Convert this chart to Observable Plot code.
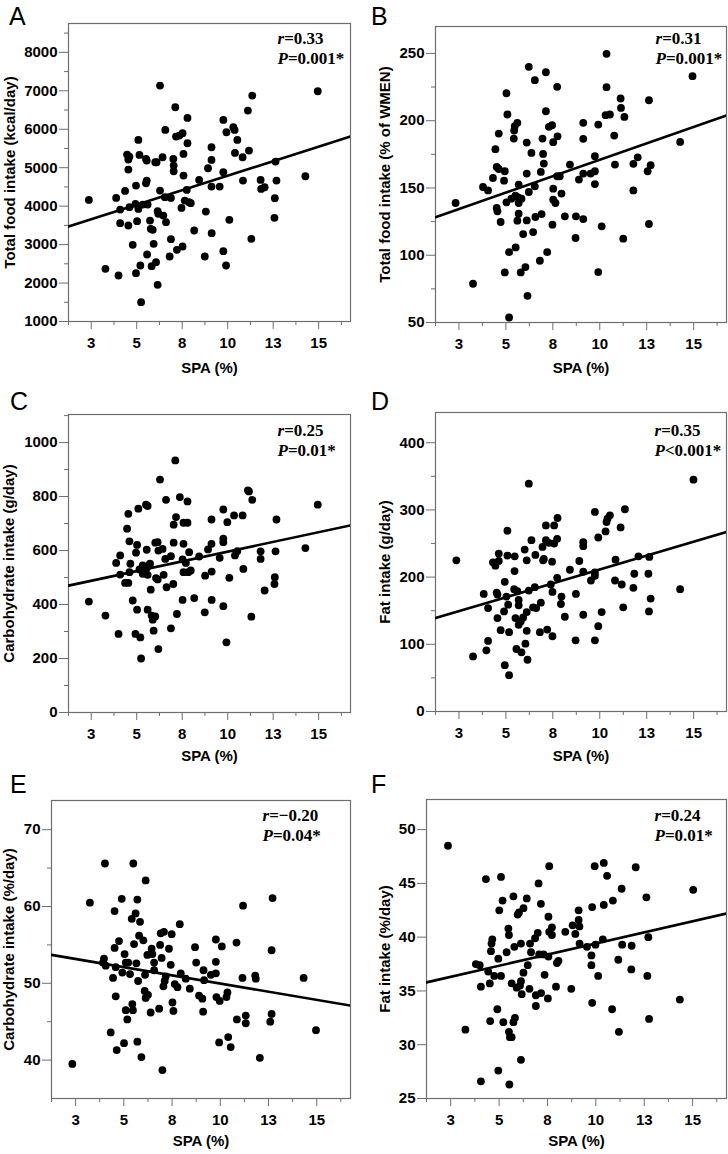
<!DOCTYPE html>
<html><head><meta charset="utf-8">
<script src="https://cdn.jsdelivr.net/npm/d3@7"></script>
<script src="https://cdn.jsdelivr.net/npm/@observablehq/plot@0.6"></script>
<style>
html,body{margin:0;padding:0;background:#fff;}
#root{position:relative;width:728px;height:1154px;overflow:hidden;font-family:"Liberation Sans",Arial,sans-serif;}
.panel{position:absolute;}
.letter{position:absolute;font-size:25px;line-height:25px;color:#000;font-family:"Liberation Sans",Arial,sans-serif;}
</style></head><body><div id="root"></div>
<script>
// ---- shared x axis (SPA %) ----
const xDomain = [1.25, 16.75];
const xTicks = [2.5, 5, 7.5, 10, 12.5, 15];
const xTickLabels = ["3", "5", "8", "10", "13", "15"];
const xMinorTicks = [1.25, 3.75, 6.25, 8.75, 11.25, 13.75, 16.25];
const xLabel = "SPA (%)";

// ---- panel letters, y labels, stats ----
const letters = ["A", "B", "C", "D", "E", "F"];
const yLabels = ["Total food intake (kcal/day)", "Total food intake (% of WMEN)", "Carbohydrate intake (g/day)", "Fat intake (g/day)", "Carbohydrate intake (%/day)", "Fat intake (%/day)"];
const rTexts = ["r=0.33", "r=0.31", "r=0.25", "r=0.35", "r=\u22120.20", "r=0.24"];
const pTexts = ["P=0.001*", "P=0.001*", "P=0.01*", "P<0.001*", "P=0.04*", "P=0.01*"];

// ---- y ticks ----
const yTicksA = [1000, 2000, 3000, 4000, 5000, 6000, 7000, 8000];
const yMinorA = [1500, 2500, 3500, 4500, 5500, 6500, 7500, 8500];
const yTicksB = [50, 100, 150, 200, 250];
const yMinorB = [75, 125, 175, 225];
const yTicksC = [0, 200, 400, 600, 800, 1000];
const yMinorC = [100, 300, 500, 700, 900, 1100];
const yTicksD = [0, 100, 200, 300, 400];
const yMinorD = [50, 150, 250, 350];
const yTicksE = [40, 50, 60, 70];
const yMinorE = [45, 55, 65];
const yTicksF = [25, 30, 35, 40, 45, 50];
const yMinorF = [];

// ---- regression fits (intercept, slope) ----
const fitA = [3281, 151];
const fitB = [122.1, 4.88];
const fitC = [452, 14.39];
const fitD = [128.7, 8.26];
const fitE = [54.23, -0.426];
const fitF = [35.28, 0.413];

// ---- data points [SPA %, value] ----
const pointsA = [[2.37,4163],[3.28,2369],[3.87,4215],[4.0,2196],[4.09,3912],[4.09,3556],[4.36,4397],[4.47,5342],[4.54,5212],[4.6,5290],[4.54,4952],[4.6,3972],[4.54,3496],[4.78,2993],[4.96,4536],[4.93,4059],[5.02,3608],[4.96,2257],[5.09,5723],[5.15,5333],[5.09,3929],[5.24,1503],[5.2,2456],[5.33,4042],[5.51,5229],[5.55,5186],[5.51,4596],[5.55,4666],[5.6,4042],[5.57,2742],[5.73,3626],[5.77,3409],[5.82,2439],[5.88,3383],[5.93,3019],[6.02,5142],[6.09,5142],[6.06,2543],[6.15,3868],[6.19,3799],[6.15,1953],[6.28,4406],[6.28,7135],[6.42,5272],[6.46,3756],[6.55,4232],[6.57,5983],[6.61,3582],[6.81,2690],[6.88,3140],[6.88,4215],[7.01,5229],[7.03,5055],[7.03,4908],[7.12,6572],[7.16,5810],[7.21,2863],[7.34,5836],[7.46,3955],[7.52,2950],[7.52,5896],[7.57,5359],[7.57,4796],[7.64,4146],[7.75,4423],[7.79,5636],[7.79,6295],[7.88,4102],[7.97,4076],[8.16,3366],[8.43,4683],[8.74,2690],[8.8,3860],[8.92,4986],[9.11,5532],[9.11,5203],[9.11,4510],[9.12,3297],[9.56,4510],[9.76,4882],[9.76,6243],[9.76,2829],[9.91,2456],[9.93,5922],[10.09,3643],[10.31,6052],[10.38,5983],[10.4,5385],[10.53,5723],[10.82,5272],[10.84,4666],[11.11,6486],[11.17,5446],[11.3,3149],[11.35,6876],[11.81,4683],[11.84,4449],[12.03,4492],[12.57,3695],[12.59,4206],[12.63,5160],[12.68,4666],[14.27,4778],[14.95,6988]];
const pointsB = [[2.32,138.8],[3.25,78.8],[3.78,150.7],[4.05,148.2],[4.31,157.4],[4.44,178.8],[4.51,165.6],[4.51,135.1],[4.55,132.6],[4.62,190.4],[4.62,164.1],[4.72,124.7],[4.9,155.4],[4.94,162.4],[4.94,87.2],[5.03,220.4],[5.03,139.3],[5.08,204.6],[5.17,102.3],[5.17,53.7],[5.29,142.0],[5.42,186.7],[5.44,192.7],[5.47,195.9],[5.51,144.3],[5.52,105.8],[5.61,198.4],[5.65,143.0],[5.68,138.8],[5.68,130.9],[5.68,152.5],[5.61,125.7],[5.79,87.2],[5.83,142.0],[5.92,115.7],[6.04,91.2],[6.11,183.7],[6.11,160.7],[6.11,125.9],[6.15,69.8],[6.22,240],[6.22,147.0],[6.36,176.0],[6.45,117.2],[6.54,230.1],[6.54,151.2],[6.57,128.4],[6.81,95.9],[6.86,161.9],[6.9,130.6],[6.95,186.7],[6.98,175.3],[7.02,168.1],[7.13,236],[7.13,207.0],[7.2,102.3],[7.29,195.4],[7.46,196.6],[7.48,122.7],[7.52,184.0],[7.52,149.5],[7.52,141.3],[7.64,138.8],[7.73,225.2],[7.75,188.4],[7.73,158.7],[7.87,158.7],[7.96,145.8],[8.14,128.9],[8.41,167.4],[8.89,156.2],[8.73,128.9],[8.71,112.8],[9.12,198.4],[9.12,186.5],[9.12,160.7],[9.12,126.9],[9.51,160.7],[9.74,173.6],[9.74,162.4],[9.74,152.9],[9.92,197.1],[9.92,87.5],[10.1,121.5],[10.31,204.1],[10.36,224.9],[10.36,249.7],[10.54,204.6],[10.77,188.9],[10.81,167.4],[11.11,216.5],[11.13,209.5],[11.25,112.3],[11.31,202.8],[11.79,167.9],[11.79,148.2],[12.02,172.8],[12.55,162.4],[12.62,215.2],[12.62,123.2],[12.71,166.9],[14.28,184.2],[14.94,233.1]];
const pointsC = [[2.37,411],[3.28,359],[3.87,554],[4.0,291],[4.09,582],[4.09,511],[4.36,480],[4.47,681],[4.54,736],[4.6,634],[4.54,480],[4.6,520],[4.65,551],[4.78,415],[4.96,592],[4.93,291],[5.02,381],[5.02,621],[5.09,755],[5.15,530],[5.2,278],[5.24,200],[5.33,514],[5.33,545],[5.51,770],[5.55,603],[5.6,765],[5.55,535],[5.6,510],[5.69,547],[5.73,551],[5.6,381],[5.77,455],[5.82,359],[5.88,344],[5.93,303],[6.02,356],[6.06,498],[6.02,629],[6.15,631],[6.19,235],[6.15,493],[6.19,600],[6.28,863],[6.42,606],[6.48,510],[6.57,569],[6.61,788],[6.64,464],[6.88,312],[6.88,579],[7.01,476],[7.03,696],[7.03,629],[7.16,724],[7.12,934],[7.21,365],[7.37,798],[7.52,417],[7.57,703],[7.57,625],[7.52,567],[7.57,520],[7.7,554],[7.79,703],[7.79,782],[7.83,520],[7.88,594],[7.97,526],[8.16,424],[8.43,578],[8.74,371],[8.76,507],[8.92,604],[9.11,715],[9.11,625],[9.12,522],[9.12,417],[9.56,573],[9.76,644],[9.76,631],[9.76,752],[9.76,394],[9.93,260],[9.98,705],[10.09,499],[10.35,730],[10.4,582],[10.53,598],[10.82,730],[10.86,532],[11.11,823],[11.17,819],[11.3,355],[11.35,788],[11.81,597],[11.81,569],[12.03,452],[12.57,476],[12.59,501],[12.63,597],[12.68,715],[14.27,609],[14.95,770]];
const pointsD = [[2.36,225],[3.25,82],[3.82,175],[3.96,91],[4.05,105],[4.05,154],[4.31,222],[4.44,217],[4.51,177],[4.55,174],[4.55,139],[4.62,235],[4.62,224],[4.72,121],[4.9,149],[4.94,193],[4.94,69],[5.03,171],[5.08,232],[5.08,269],[5.12,159],[5.17,118],[5.17,54],[5.44,182],[5.47,231],[5.46,209],[5.51,139],[5.56,93],[5.61,179],[5.68,166],[5.68,158],[5.68,129],[5.79,134],[5.83,88],[5.92,140],[6.0,241],[6.04,101],[6.11,225],[6.11,148],[6.11,120],[6.15,77],[6.22,339],[6.22,180],[6.36,255],[6.45,155],[6.54,185],[6.57,233],[6.61,154],[6.81,118],[6.86,162],[6.95,245],[6.98,225],[7.02,227],[7.13,277],[7.13,255],[7.2,122],[7.29,251],[7.39,189],[7.46,223],[7.48,178],[7.48,112],[7.57,277],[7.57,250],[7.73,257],[7.75,288],[7.73,199],[7.93,160],[7.96,171],[8.14,141],[8.41,211],[8.73,175],[8.71,106],[8.91,224],[9.12,252],[9.12,246],[9.12,208],[9.12,144],[9.53,195],[9.74,207],[9.74,202],[9.74,297],[9.74,106],[9.92,259],[9.92,127],[10.1,148],[10.31,268],[10.36,282],[10.41,287],[10.54,292],[10.81,195],[10.84,226],[11.11,274],[11.17,189],[11.25,155],[11.34,301],[11.79,184],[11.84,205],[12.06,231],[12.59,205],[12.62,149],[12.64,230],[12.71,168],[14.28,182],[14.99,345]];
const pointsE = [[2.33,39.5],[3.24,60.5],[3.92,52.7],[3.97,53.2],[4.02,65.6],[4.06,52.3],[4.32,43.6],[4.44,50.7],[4.52,59.4],[4.52,54.6],[4.58,48.3],[4.58,52.1],[4.63,41.3],[4.75,55.5],[4.89,61.0],[4.92,51.4],[5.01,42.2],[5.04,53.8],[5.1,52.7],[5.1,46.5],[5.18,45.3],[5.23,52.7],[5.32,51.2],[5.44,47.3],[5.47,46.5],[5.49,65.6],[5.41,58.4],[5.53,55.1],[5.61,59.1],[5.65,52.6],[5.7,60.9],[5.7,42.4],[5.74,50.3],[5.79,56.2],[5.84,58.0],[5.91,40.4],[6.01,55.6],[6.08,49.0],[6.1,51.1],[6.13,63.4],[6.13,48.1],[6.22,53.7],[6.25,48.5],[6.39,46.2],[6.44,54.5],[6.48,53.8],[6.57,52.7],[6.57,51.7],[6.83,46.7],[6.88,55.0],[6.91,56.5],[6.96,53.3],[7.0,38.7],[7.05,49.6],[7.08,56.7],[7.12,50.3],[7.17,50.9],[7.34,54.5],[7.43,52.4],[7.48,56.4],[7.52,47.5],[7.57,46.4],[7.64,49.9],[7.78,49.5],[7.9,57.7],[7.95,51.3],[8.21,50.6],[8.42,49.3],[8.69,54.7],[8.75,52.7],[8.9,48.4],[9.07,48.0],[9.11,46.3],[9.13,51.7],[9.16,50.4],[9.51,51.1],[9.77,52.8],[9.77,55.7],[9.77,51.3],[9.8,48.2],[9.94,42.3],[9.97,47.7],[10.08,54.8],[10.32,48.2],[10.37,48.8],[10.41,43.0],[10.54,41.7],[10.84,55.3],[10.86,45.3],[11.15,50.7],[11.18,60.1],[11.32,45.8],[11.32,44.8],[11.81,51.0],[11.84,50.6],[12.05,40.3],[12.59,45.0],[12.66,46.0],[12.66,54.3],[12.71,61.1],[14.32,50.7],[14.96,43.9]];
const pointsF = [[2.36,48.5],[3.26,31.4],[3.8,37.5],[4.0,37.4],[4.06,35.4],[4.06,26.6],[4.32,45.4],[4.44,36.8],[4.52,35.7],[4.54,32.2],[4.58,38.7],[4.61,39.4],[4.65,39.8],[4.75,36.4],[4.91,33.3],[4.96,38.0],[4.96,27.6],[5.01,42.5],[5.1,45.6],[5.1,36.4],[5.18,43.4],[5.22,32.1],[5.39,38.6],[5.48,40.8],[5.51,40.2],[5.51,31.2],[5.53,26.3],[5.56,30.7],[5.65,30.7],[5.65,35.7],[5.74,43.8],[5.79,39.1],[5.74,32.1],[5.82,32.5],[5.91,35.3],[5.96,42.1],[6.03,42.3],[6.08,35.5],[6.13,39.4],[6.13,28.6],[6.13,35.9],[6.17,34.7],[6.26,42.7],[6.26,36.7],[6.43,43.6],[6.48,37.4],[6.57,35.2],[6.6,39.4],[6.65,38.6],[6.86,39.9],[6.9,34.6],[6.9,33.6],[7.0,40.4],[7.04,45.0],[7.07,38.4],[7.16,43.1],[7.17,34.8],[7.3,38.4],[7.35,36.5],[7.52,34.3],[7.55,41.9],[7.55,38.2],[7.59,46.6],[7.59,40.5],[7.73,40.9],[7.73,40.2],[7.94,35.4],[7.99,37.6],[8.07,37.8],[8.42,40.5],[8.73,35.2],[8.8,41.1],[8.94,40.3],[9.11,42.5],[9.11,41.6],[9.15,41.0],[9.16,39.4],[9.54,39.1],[9.77,38.3],[9.77,37.4],[9.81,42.8],[9.81,33.9],[9.94,46.6],[9.98,39.3],[10.12,36.4],[10.36,39.8],[10.41,46.9],[10.41,43.0],[10.58,45.7],[10.84,33.3],[10.88,43.4],[11.16,37.9],[11.19,31.2],[11.33,44.5],[11.36,39.3],[11.83,37.0],[11.85,39.2],[12.06,46.5],[12.61,43.7],[12.66,36.4],[12.71,40.0],[12.75,32.4],[14.34,34.2],[15.03,44.4]];

// ---- layout (code, not data) ----
const layouts = [
  {left:0,   top:0,   w:364, h:385, mt:23, mr:14, mb:64, ml:68, y:[1000,8750], ticks:yTicksA, minor:yMinorA, pts:pointsA, fit:fitA, sdx:-73, sdy:[20,40], ylx:-58.5, xly:47, lx:9,   ly:25},
  {left:364, top:0,   w:364, h:385, mt:26, mr:2,  mb:63, ml:71, y:[50,270],   ticks:yTicksB, minor:yMinorB, pts:pointsB, fit:fitB, sdx:-71, sdy:[17,37], ylx:-50,   xly:46, lx:371, ly:25},
  {left:0,   top:385, w:364, h:385, mt:29, mr:14, mb:58, ml:68, y:[0,1104],   ticks:yTicksC, minor:yMinorC, pts:pointsC, fit:fitC, sdx:-73, sdy:[21,41], ylx:-59,   xly:44, lx:10,  ly:410},
  {left:364, top:385, w:364, h:385, mt:27, mr:2,  mb:59, ml:71, y:[0,445],    ticks:yTicksD, minor:yMinorD, pts:pointsD, fit:fitD, sdx:-72, sdy:[23,43], ylx:-50,   xly:45, lx:371, ly:410},
  {left:0,   top:770, w:364, h:384, mt:30, mr:14, mb:56, ml:51, y:[35,73.8],  ticks:yTicksE, minor:yMinorE, pts:pointsE, fit:fitE, sdx:-88, sdy:[20,40], ylx:-42,   xly:43, lx:10,  ly:793},
  {left:364, top:770, w:364, h:384, mt:29, mr:2,  mb:56, ml:62, y:[25,52.8],  ticks:yTicksF, minor:yMinorF, pts:pointsF, fit:fitF, sdx:-72, sdy:[21,41], ylx:-41,   xly:43, lx:371, ly:793}
];

const root = document.getElementById("root");
const axisColor = "#6e6e6e";
const NS = "http://www.w3.org/2000/svg";

layouts.forEach((L, i) => {
  const data = L.pts.map(([x, y]) => ({x, y}));
  const line = xDomain.map(x => ({x, y: L.fit[0] + L.fit[1] * x}));
  const marks = [
    Plot.axisX(xMinorTicks, {tickSize: 4, tickFormat: () => "", stroke: axisColor, label: null}),
    Plot.axisX(xTicks, {tickSize: 8, tickPadding: 8, tickFormat: d => xTickLabels[xTicks.indexOf(d)], stroke: axisColor, fill: "#000", fontWeight: "bold", fontSize: 15, label: null}),
    Plot.axisY(L.ticks, {tickSize: 9, tickPadding: 2, tickFormat: d => String(d), stroke: axisColor, fill: "#000", fontWeight: "bold", fontSize: 15, label: null})
  ];
  if (L.minor.length) marks.push(Plot.axisY(L.minor, {tickSize: 4, tickFormat: () => "", stroke: axisColor, label: null}));
  marks.push(
    Plot.frame({stroke: axisColor, strokeWidth: 1.2}),
    Plot.line(line, {x: "x", y: "y", stroke: "#000", strokeWidth: 2.6, clip: true}),
    Plot.dot(data, {x: "x", y: "y", r: 3.9, fill: "#000", stroke: "none"}),
    Plot.text([yLabels[i]], {text: d => d, frameAnchor: "left", rotate: -90, dx: L.ylx, textAnchor: "middle", lineAnchor: "middle", fontWeight: "bold", fontSize: 15, fill: "#000"}),
    Plot.text([xLabel], {text: d => d, frameAnchor: "bottom", dy: L.xly, textAnchor: "middle", lineAnchor: "middle", fontWeight: "bold", fontSize: 15, fill: "#000"}),
    Plot.text([rTexts[i]], {text: d => d, frameAnchor: "top-right", dx: L.sdx, dy: L.sdy[0], textAnchor: "start", lineAnchor: "bottom", fontFamily: "Liberation Serif", fontWeight: "bold", fontSize: 17, fill: "#000"}),
    Plot.text([pTexts[i]], {text: d => d, frameAnchor: "top-right", dx: L.sdx, dy: L.sdy[1], textAnchor: "start", lineAnchor: "bottom", fontFamily: "Liberation Serif", fontWeight: "bold", fontSize: 17, fill: "#000"})
  );
  const svg = Plot.plot({
    width: L.w, height: L.h,
    marginTop: L.mt, marginRight: L.mr, marginBottom: L.mb, marginLeft: L.ml,
    x: {domain: xDomain},
    y: {domain: L.y},
    style: {fontFamily: "'Liberation Sans', Arial, sans-serif", fontSize: "15px", background: "#fff", color: "#000"},
    marks
  });
  // italic r / P in the statistics
  svg.querySelectorAll("text").forEach(t => {
    const s = t.textContent;
    if (/^[rP][=<]/.test(s)) {
      t.textContent = "";
      const a = document.createElementNS(NS, "tspan");
      a.setAttribute("font-style", "italic");
      a.textContent = s[0];
      const b = document.createElementNS(NS, "tspan");
      b.textContent = s.slice(1);
      t.append(a, b);
    }
  });
  const div = document.createElement("div");
  div.className = "panel";
  div.style.left = L.left + "px";
  div.style.top = L.top + "px";
  div.appendChild(svg);
  root.appendChild(div);
  const lt = document.createElement("div");
  lt.className = "letter";
  lt.textContent = letters[i];
  lt.style.left = L.lx + "px";
  lt.style.top = (L.ly - 21) + "px";
  root.appendChild(lt);
});
</script></body></html>
